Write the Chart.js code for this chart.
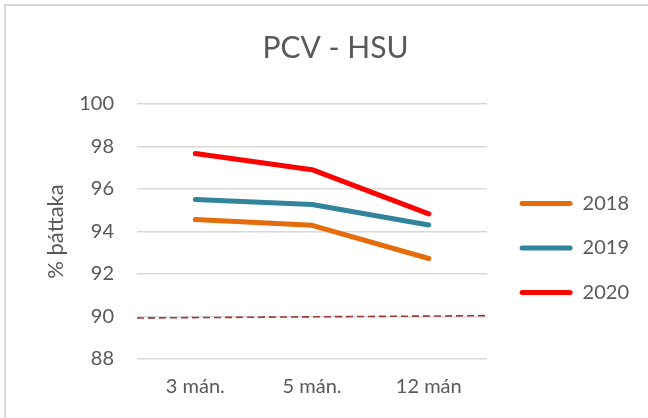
<!DOCTYPE html>
<html>
<head>
<meta charset="utf-8">
<script src="https://cdn.jsdelivr.net/npm/chart.js@4/dist/chart.umd.min.js"></script>
<style>
  html, body { margin: 0; padding: 0; background: #fff; }
  #wrap { position: relative; width: 648px; height: 418px; }
  #frame {
    position: absolute; left: 4px; top: 4px; right: 0; bottom: 0;
    border-top: 2px solid #d9d9d9; border-left: 2px solid #d9d9d9;
    pointer-events: none;
  }
</style>
</head>
<body>
<div id="wrap">
  <canvas id="chart" width="648" height="418"></canvas>
  <div id="frame"></div>
</div>
<script>
// ── PCV - HSU: þáttaka eftir aldri (3, 5, 12 mán.) ──────────────

const months = ['3 mán.', '5 mán.', '12 mán'];
const y2018 = [94.56, 94.29, 92.73];
const y2019 = [95.51, 95.27, 94.31];
const y2020 = [97.67, 96.91, 94.83];

// 90% viðmiðunarlína (dregin yfir alla breidd)
const targetX = [0, 1];
const targetY = [89.93, 90.04];

const yTicks = [88, 90, 92, 94, 96, 98, 100];

const textColor = '#595959';
const fontFamily = 'Lato, "Open Sans", sans-serif';

// færir legend aðeins til svo það passi við fyrirmyndina
const legendNudge = {
  id: 'legendNudge',
  afterLayout(chart) {
    const lg = chart.legend;
    if (!lg) return;
    const dx = 8, dy = 16.5;
    lg.left += dx; lg.right += dx;
    lg.top += dy; lg.bottom += dy;
  }
};

function series(label, data, color) {
  return {
    label,
    data,
    borderColor: color,
    backgroundColor: color,
    borderWidth: 5,
    pointRadius: 0,
    pointHoverRadius: 0,
    tension: 0,
    borderCapStyle: 'round',
    borderJoinStyle: 'round'
  };
}

new Chart(document.getElementById('chart'), {
  type: 'line',
  data: {
    labels: months,
    datasets: [
      series('2018', y2018, '#E46C0A'),
      series('2019', y2019, '#31849B'),
      series('2020', y2020, '#FF0000'),
      {
        label: 'target',
        data: targetX.map((x, i) => ({ x, y: targetY[i] })),
        xAxisID: 'x2',
        borderColor: '#9B3A36',
        borderWidth: 1.6,
        borderDash: [7, 4],
        pointRadius: 0,
        tension: 0
      }
    ]
  },
  options: {
    responsive: false,
    animation: false,
    layout: { padding: { left: 40, right: 17, top: 0, bottom: 11 } },
    plugins: {
      title: {
        display: true,
        text: 'PCV - HSU',
        color: textColor,
        font: { family: fontFamily, size: 30, weight: 'normal' },
        padding: { top: 30, bottom: 38 }
      },
      legend: {
        position: 'right',
        fullSize: false,
        labels: {
          color: textColor,
          font: { family: fontFamily, size: 20 },
          boxWidth: 53,
          boxHeight: 5,
          useBorderRadius: true,
          borderRadius: 2.5,
          padding: 24.5,
          generateLabels: chart =>
            Chart.defaults.plugins.legend.labels.generateLabels(chart)
              .filter(l => l.datasetIndex < 3)
              .map(l => ({ ...l, lineWidth: 0 }))
        }
      },
      tooltip: { enabled: false }
    },
    scales: {
      x: {
        offset: true,
        grid: { display: false },
        border: { display: false },
        ticks: { color: textColor, font: { family: fontFamily, size: 20 }, padding: 8 }
      },
      x2: {
        type: 'linear',
        display: false,
        min: 0,
        max: 1
      },
      y: {
        min: 88,
        max: 100,
        afterBuildTicks: axis => { axis.ticks = yTicks.map(v => ({ value: v })); },
        afterFit: axis => { axis.width = 97; },
        grid: { color: '#D9D9D9', lineWidth: 1.5, drawTicks: false },
        border: { display: false },
        ticks: { color: textColor, font: { family: fontFamily, size: 20 }, padding: 23 },
        title: {
          display: true,
          text: '% þáttaka',
          color: textColor,
          font: { family: fontFamily, size: 22 },
          padding: { top: 3, bottom: 0 }
        }
      }
    }
  },
  plugins: [legendNudge]
});
</script>
</body>
</html>
